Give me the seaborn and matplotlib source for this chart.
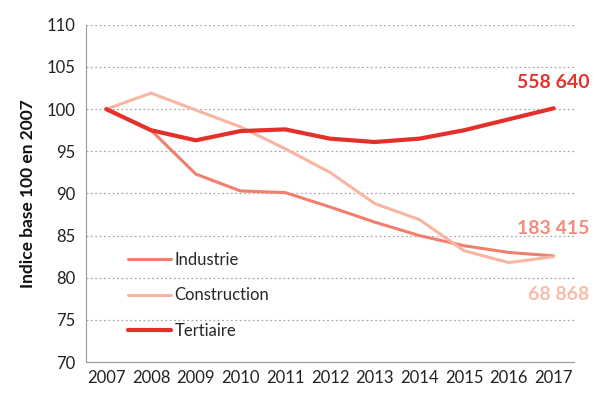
import pandas as pd
import matplotlib.pyplot as plt
import seaborn as sns

# Données (indice base 100 en 2007)
years = [2007, 2008, 2009, 2010, 2011, 2012, 2013, 2014, 2015, 2016, 2017]
industrie = [100, 97.5, 92.3, 90.3, 90.1, 88.4, 86.6, 85.0, 83.8, 83.0, 82.6]
construction = [100, 101.9, 99.9, 97.9, 95.3, 92.5, 88.8, 86.9, 83.2, 81.8, 82.5]
tertiaire = [100, 97.5, 96.3, 97.4, 97.6, 96.5, 96.1, 96.5, 97.5, 98.8, 100.1]
end_labels = ["183 415", "68 868", "558 640"]

series = ["Industrie", "Construction", "Tertiaire"]
colors = {"Industrie": "#F07F6C", "Construction": "#F8B6A2", "Tertiaire": "#E5302A"}
widths = {"Industrie": 2.2, "Construction": 2.2, "Tertiaire": 3.0}
label_colors = ["#F08C7C", "#F8BCA8", "#E3332C"]

df = pd.DataFrame({
    "year": years * 3,
    "value": industrie + construction + tertiaire,
    "secteur": [s for s in series for _ in years],
})

sns.set_style("white")
plt.rcParams["font.family"] = ["Lato", "DejaVu Sans"]

fig = plt.figure(figsize=(5.94, 3.94), dpi=100)
ax = fig.add_axes([0.145, 0.081, 0.821, 0.856])

for s in series:
    sns.lineplot(data=df[df["secteur"] == s], x="year", y="value", ax=ax,
                 color=colors[s], linewidth=widths[s], label=s)

ax.set_xlim(2006.55, 2017.45)
ax.set_ylim(70, 110)
ax.set_yticks(range(70, 111, 5))
ax.set_xticks(years)
ax.set_xticks([y + 0.5 for y in years[:-1]] + [2006.55, 2017.45], minor=True)
ax.tick_params(axis="x", which="major", length=0, labelsize=12, colors="#222222", pad=6)
ax.tick_params(axis="x", which="minor", length=4, color="#999999", direction="in")
ax.tick_params(axis="y", length=4, color="#999999", direction="out", labelsize=12,
               colors="#222222")
ax.yaxis.grid(True, linestyle=(0, (1.5, 2)), color="#AAAAAA", linewidth=0.9)
for side in ["top", "right"]:
    ax.spines[side].set_visible(False)
for side in ["left", "bottom"]:
    ax.spines[side].set_color("#999999")
ax.set_xlabel("")
ax.set_ylabel("Indice base 100 en 2007", fontsize=12.5, fontweight="bold",
              color="#111111", labelpad=8)

ax.legend(loc="lower left", bbox_to_anchor=(0.055, 0.025), frameon=False, fontsize=12,
          handlelength=2.6, labelspacing=1.15, handletextpad=0.2)

offsets = [(2017.8, 85.8), (2017.8, 78.0), (2017.8, 103.2)]
for (x, y), txt, c in zip(offsets, end_labels, label_colors):
    ax.text(x, y, txt, ha="right", va="center", fontsize=14, fontweight="bold", color=c,
            clip_on=False)

fig.savefig("out.png", dpi=100)
plt.close(fig)
